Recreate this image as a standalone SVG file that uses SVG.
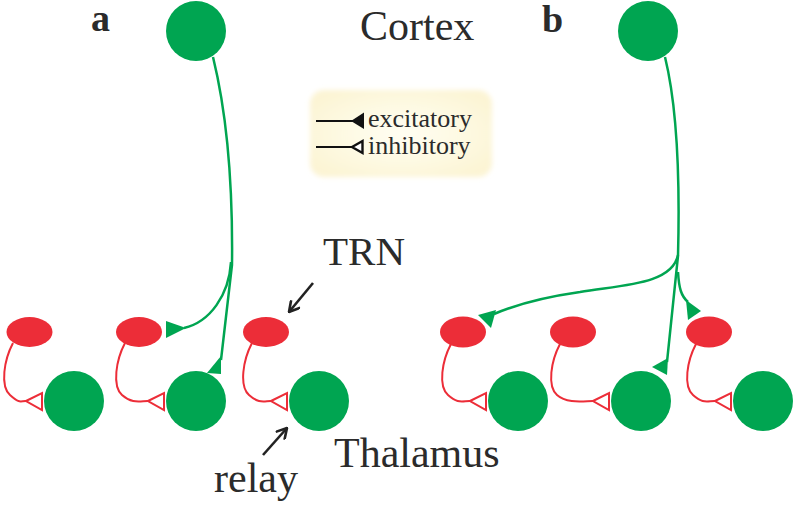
<svg xmlns="http://www.w3.org/2000/svg" width="800" height="505" viewBox="0 0 800 505">
<defs>
<radialGradient id="lg" cx="50%" cy="50%" r="60%">
<stop offset="0" stop-color="#fffef2"/>
<stop offset="0.7" stop-color="#fdf8de"/>
<stop offset="1" stop-color="#fcf4d4"/>
</radialGradient>
<filter id="soft" x="-10%" y="-10%" width="120%" height="120%">
<feGaussianBlur stdDeviation="2.5"/>
</filter>
<marker id="chev" viewBox="0 0 10 10" refX="9" refY="5" markerWidth="5" markerHeight="5" orient="auto" markerUnits="strokeWidth">
<path d="M1,0.5 L9,5 L1,9.5" fill="none" stroke="#222" stroke-width="2"/>
</marker>
</defs>
<style>
.g{fill:#00a551}
.r{fill:#ec2d38}
.ax{fill:none;stroke:#00a551;stroke-width:2.5}
.ex{fill:#00a551}
.ih{fill:none;stroke:#ec2d38;stroke-width:2}
.it{fill:#fff;stroke:#ec2d38;stroke-width:2}
.t{font-family:"Liberation Serif","Times New Roman",serif;fill:#2b2b2b}
.lab{font-family:"Liberation Serif","Times New Roman",serif;font-weight:bold;fill:#2b2b2b;font-size:38px}
.ptr{fill:none;stroke:#222;stroke-width:2.6;marker-end:url(#chev)}
</style>
<rect width="800" height="505" fill="#fff"/>

<text class="lab" x="91" y="31">a</text>
<text class="lab" x="542" y="32">b</text>
<text class="t" x="360" y="40" font-size="42">Cortex</text>
<text class="t" x="323" y="265" font-size="41">TRN</text>
<text class="t" x="334" y="467" font-size="42">Thalamus</text>
<text class="t" x="214" y="492" font-size="42">relay</text>

<g id="legend">
<rect x="310" y="90" width="182" height="87" rx="14" fill="url(#lg)" filter="url(#soft)"/>
<line x1="316" y1="121" x2="353" y2="121" stroke="#111" stroke-width="2"/>
<polygon points="351,121 364,112.5 364,129" fill="#111"/>
<text class="t" x="368" y="127" font-size="26">excitatory</text>
<line x1="316" y1="147" x2="352" y2="147" stroke="#111" stroke-width="2"/>
<polygon points="352,147 362.5,141 362.5,153" fill="#fff" stroke="#111" stroke-width="2.4"/>
<text class="t" x="368" y="154" font-size="26">inhibitory</text>
</g>

<g id="connectors">
<path class="ax" d="M213,57 C226,110 233,180 232,265 L221,360"/>
<path class="ax" d="M231,262 C229,295 210,322 184,328"/>
<polygon class="ex" points="166,321 166,338 186,328"/>
<polygon class="ex" points="207,373 221,356 221,374"/>
<path class="ax" d="M665,57 C678,110 680,180 678,256 L667,362"/>
<path class="ax" d="M678,255 C672,285 620,285 580,292 C545,297 515,305 494,314"/>
<path class="ax" d="M678,272 C679,288 681,296 688,302"/>
<polygon class="ex" points="478,315 491,328 496,310"/>
<polygon class="ex" points="652,367 668,358 667,375"/>
<polygon class="ex" points="686,300 701,311 688,320"/>
<path class="ih" d="M13,343 C4,360 0,386 10,395 S20,401 26,401"/>
<polygon class="it" points="26,401 42,393 42,410"/>
<path class="ih" d="M125,343 C116,360 112,386 122,395 S140,401 148,401"/>
<polygon class="it" points="148,401 164,393 164,410"/>
<path class="ih" d="M252,343 C243,360 239,386 249,395 S264,401 271,401"/>
<polygon class="it" points="271,401 287,393 287,410"/>
<path class="ih" d="M451,344 C442,361 438,386 448,395 S462,401 470,401"/>
<polygon class="it" points="470,401 486,393 486,410"/>
<path class="ih" d="M560,344 C551,361 547,386 557,395 S584,401 593,401"/>
<polygon class="it" points="593,401 609,393 609,410"/>
<path class="ih" d="M696,344 C687,361 683,386 693,395 S707,401 715,401"/>
<polygon class="it" points="715,401 731,393 731,410"/>
<path class="ptr" d="M313,283 L289,312"/>
<path class="ptr" d="M263,455 L287,428"/>
</g>

<g id="cortex-a"><circle class="g" cx="196" cy="31" r="30"/></g>
<g id="cortex-b"><circle class="g" cx="648" cy="31" r="30"/></g>

<g id="trn-a1"><ellipse class="r" cx="29.5" cy="332" rx="23" ry="15"/></g>
<g id="trn-a2"><ellipse class="r" cx="139" cy="332" rx="23" ry="15"/></g>
<g id="trn-a3"><ellipse class="r" cx="266" cy="332" rx="23" ry="15"/></g>
<g id="trn-b1"><ellipse class="r" cx="463" cy="332" rx="23" ry="15.5"/></g>
<g id="trn-b2"><ellipse class="r" cx="573" cy="332" rx="23" ry="15.5"/></g>
<g id="trn-b3"><ellipse class="r" cx="709" cy="332" rx="23" ry="15.5"/></g>

<g id="relay-a1"><circle class="g" cx="74" cy="401" r="30"/></g>
<g id="relay-a2"><circle class="g" cx="196" cy="401" r="30"/></g>
<g id="relay-a3"><circle class="g" cx="319" cy="401" r="30"/></g>
<g id="relay-b1"><circle class="g" cx="518" cy="401" r="30"/></g>
<g id="relay-b2"><circle class="g" cx="641" cy="401" r="30"/></g>
<g id="relay-b3"><circle class="g" cx="763" cy="401" r="30"/></g>
</svg>
